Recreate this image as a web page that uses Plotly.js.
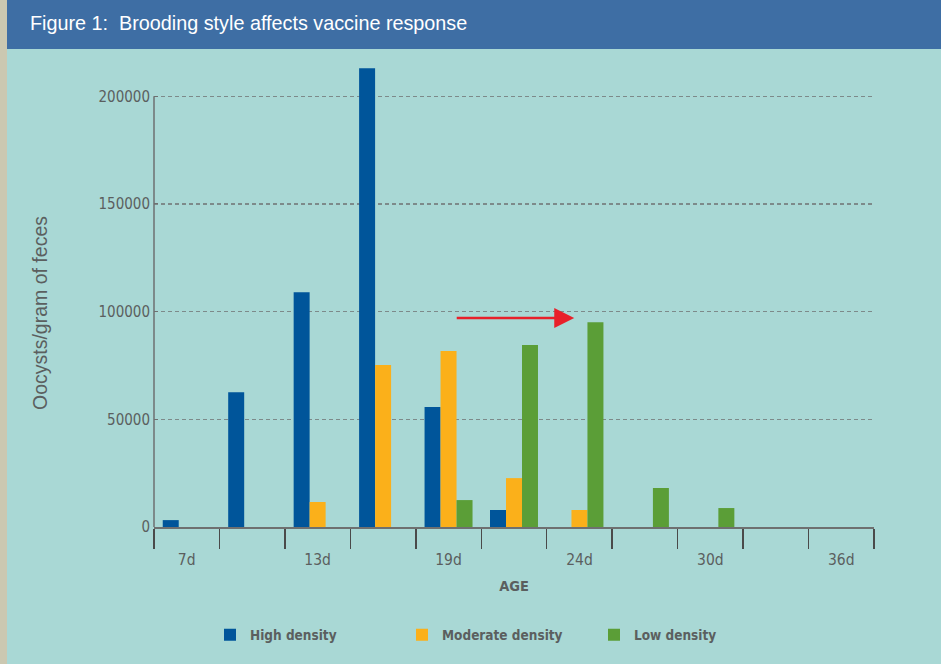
<!DOCTYPE html>
<html>
<head>
<meta charset="utf-8">
<script src="https://cdn.plot.ly/plotly-3.0.1.min.js"></script>
<style>
html,body{margin:0;padding:0;background:#a9d8d5;}
#chart{width:941px;height:664px;}
</style>
</head>
<body>
<div id="chart"></div>
<script>
// ---- data ----
const ageLabels = ["7d", "", "13d", "", "19d", "", "24d", "", "30d", "", "36d"];
const highDensity     = [3200, 62600, 109000, 213000, 55700, 7900, null, null, null, null, null];
const moderateDensity = [null, null, 11600, 75200, 81700, 22700, 7900, null, null, null, null];
const lowDensity      = [null, null, null, null, 12500, 84500, 95100, 18100, 8800, null, null];
const seriesNames = ["High density", "Moderate density", "Low density"];
const yTickVals = [0, 50000, 100000, 150000, 200000];
const arrowValue = 97000;

// ---- layout constants ----
const W = 941, H = 664;
const M = {l: 154, r: 67, t: 64, b: 137};
const pw = W - M.l - M.r, ph = H - M.t - M.b;
const px2paperX = p => (p - M.l) / pw;
const px2paperY = p => (H - M.b - p) / ph;

const colors = ["#00559a", "#fbb01a", "#5b9e37"];
const idx = ageLabels.map((_, i) => i);
const cond = "'Liberation Sans Narrow', 'DejaVu Sans Condensed', sans-serif";
const grey = "#5b5f5f";

const values = [highDensity, moderateDensity, lowDensity];
const traces = values.map((v, k) => ({
  type: "bar",
  name: seriesNames[k],
  x: idx,
  y: v,
  marker: {color: colors[k], line: {width: 0}},
  hoverinfo: "x+y+name"
}));

const majorVals = idx.filter(i => ageLabels[i] !== "");
const layout = {
  width: W, height: H,
  margin: M,
  paper_bgcolor: "#a9d8d5",
  plot_bgcolor: "rgba(0,0,0,0)",
  barmode: "group",
  bargap: 0.267,
  bargroupgap: 0,
  showlegend: true,
  title: {
    text: "Figure 1:  Brooding style affects vaccine response",
    font: {family: "'Liberation Sans', Arial, sans-serif", size: 19.8, color: "#ffffff"},
    xref: "container", yref: "container",
    x: 30 / W, xanchor: "left",
    y: 1 - 23 / H, yanchor: "middle"
  },
  xaxis: {
    range: [-0.5, ageLabels.length - 0.5],
    tickmode: "array",
    tickvals: majorVals,
    ticktext: majorVals.map(i => ageLabels[i]),
    ticks: "outside", ticklen: 18, tickcolor: "rgba(0,0,0,0)",
    minor: {
      tickmode: "array",
      tickvals: idx.map(i => i - 0.5).concat([ageLabels.length - 0.5]),
      ticks: "outside", ticklen: 20, tickwidth: 1.5, tickcolor: "#4a4a4a", showgrid: false
    },
    showline: true, linecolor: "#6e7070", linewidth: 1.5,
    showgrid: false, zeroline: false,
    tickfont: {family: cond, size: 15.5, color: grey},
    title: {text: "AGE", font: {family: cond, size: 14.5, color: grey, weight: "bold"}, standoff: 13},
    fixedrange: true
  },
  yaxis: {
    range: [0, 215000],
    tickmode: "array",
    tickvals: yTickVals,
    ticktext: yTickVals.map(String),
    ticks: "inside", ticklen: 4, tickcolor: "#6e7070",
    ticklabelstandoff: 3,
    showline: false, zeroline: false,
    showgrid: true, gridcolor: "#7d8a8a", gridwidth: 1.1, griddash: "4px,3px",
    tickfont: {family: cond, size: 15, color: grey},
    fixedrange: true
  },
  legend: {
    orientation: "h",
    x: px2paperX(210), xanchor: "left",
    y: px2paperY(635), yanchor: "middle",
    entrywidth: 147, entrywidthmode: "pixels",
    font: {family: cond, size: 13.5, color: grey, weight: "bold"},
    bgcolor: "rgba(0,0,0,0)",
    traceorder: "normal"
  },
  shapes: [
    {type: "rect", xref: "paper", yref: "paper", layer: "below",
     x0: px2paperX(0), x1: px2paperX(7), y0: px2paperY(0), y1: px2paperY(H),
     fillcolor: "#cbc8b1", line: {width: 0}},
    {type: "rect", xref: "paper", yref: "paper", layer: "below",
     x0: px2paperX(7), x1: px2paperX(W), y0: px2paperY(0), y1: px2paperY(49),
     fillcolor: "#3e6ea4", line: {width: 0}},
    {type: "line", xref: "paper", yref: "y",
     x0: 0, x1: 0, y0: 0, y1: yTickVals[yTickVals.length - 1],
     line: {color: "#6e7070", width: 1.5}}
  ],
  annotations: [
    {x: 5.92, y: arrowValue, xref: "x", yref: "y",
     ax: -119, ay: 0, showarrow: true, arrowhead: 2, arrowsize: 1.6, arrowwidth: 2.5,
     arrowcolor: "#e8202a", text: ""},
    {text: "Oocysts/gram of feces", xref: "paper", yref: "paper",
     x: px2paperX(40), y: px2paperY(313), xanchor: "center", yanchor: "middle",
     textangle: -90, showarrow: false,
     font: {family: "'Liberation Sans', Arial, sans-serif", size: 19.5, color: grey}}
  ]
};

Plotly.newPlot("chart", traces, layout, {displayModeBar: false, staticPlot: true});
</script>
</body>
</html>
